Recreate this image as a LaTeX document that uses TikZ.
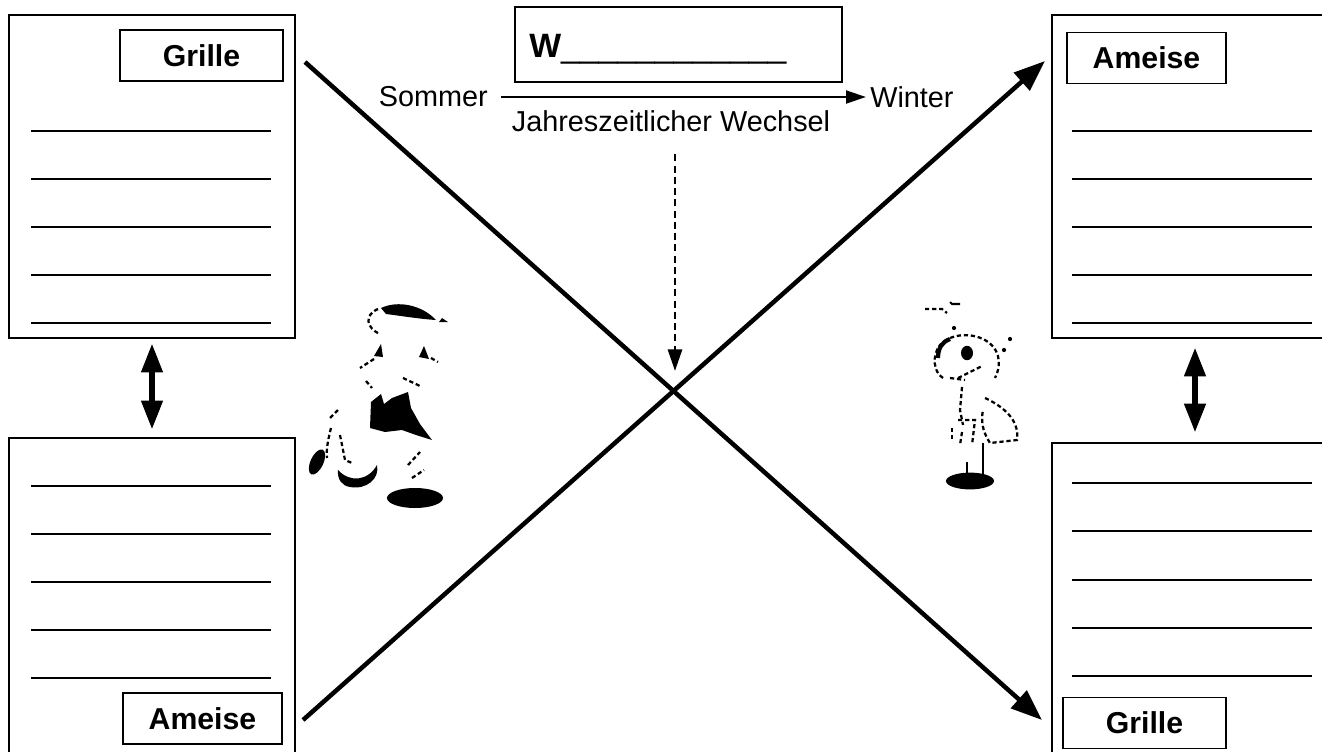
\documentclass[tikz,border=0pt]{standalone}
\usepackage{fontspec}
\setmainfont{Liberation Sans}
\usetikzlibrary{arrows.meta}

\tikzset{
  tafel/.style={draw, line width=0.9pt, minimum width=7.15cm, minimum height=8.075cm, inner sep=0pt},
  schild/.style={draw, fill=white, line width=0.8pt, inner sep=0pt, minimum height=1.275cm,
    font=\fontsize{21.5}{24}\selectfont\bfseries},
  zeile/.style={line width=1.2pt},
  kreuzpfeil/.style={line width=3.2pt, -{Triangle[length=0.78cm, width=0.58cm]}},
  doppelpfeil/.style={line width=3.8pt, {Triangle[length=0.72cm, width=0.52cm]}-{Triangle[length=0.72cm, width=0.52cm]}},
  skizze/.style={line width=1.6pt, dash pattern=on 3pt off 2pt}
}

\begin{document}
\begin{tikzpicture}[x=0.025cm, y=-0.025cm]
\useasboundingbox (0,0) rectangle (1322,751);
\clip (0,0) rectangle (1322,751);

\node[tafel] (grilleLO) at (152,176.5) {};
\node[tafel] (ameiseLU) at (152,599.5) {};
\node[tafel] (ameiseRO) at (1195,176.5) {};
\node[tafel] (grilleRU) at (1195,604.5) {};

\foreach \y in {131,179,227,275,323} {
  \draw[zeile] (31,\y) -- (271,\y);
  \draw[zeile] (1072,\y) -- (1312,\y);
}
\foreach \y in {486,534,582,630,678}
  \draw[zeile] (31,\y) -- (271,\y);
\foreach \y in {483,531,580,628,676}
  \draw[zeile] (1072,\y) -- (1312,\y);

\node[schild, minimum width=4.075cm] (grilleA) at (201.5,55.5) {Grille};
\node[schild, minimum width=3.975cm] (ameiseA) at (202.5,718.5) {Ameise};
\node[schild, minimum width=3.975cm] (ameiseB) at (1146.5,58) {Ameise};
\node[schild, minimum width=4.075cm] (grilleB) at (1144.5,723) {Grille};

\draw[doppelpfeil, shorten <=0.125cm, shorten >=0.2cm] (grilleLO.south) -- (ameiseLU.north);
\draw[doppelpfeil, shorten <=0.225cm, shorten >=0.25cm] (ameiseRO.south) -- (grilleRU.north);

\node[draw, line width=2pt, minimum width=8.175cm, minimum height=1.875cm] (wbox) at (678.5,44.5) {};
\node[anchor=base west, inner sep=0pt, font=\fontsize{24}{28}\selectfont] (wort) at (529,57)
  {\textbf{W}\_\_\_\_\_\_\_\_\_\_\_\_};

\begin{scope}[font=\fontsize{20.5}{24}\selectfont, inner sep=0pt]
\node[anchor=east] (sommer) at (488,97) {Sommer};
\node[anchor=west] (winter) at (870,97) {Winter};
\node (wechsel) at (671,121) {Jahreszeitlicher Wechsel};
\end{scope}
\draw[line width=1.8pt, -{Triangle[length=0.5cm, width=0.32cm]}, shorten <=0.33cm, shorten >=0.1cm]
  (sommer.east) -- (winter.west);

\coordinate (kreuzung) at (675,393);
\draw[line width=2pt, dash pattern=on 5pt off 3pt, -{Triangle[length=0.54cm, width=0.35cm]},
  shorten <=0.56cm, shorten >=0.55cm] (wechsel.south -| kreuzung) -- (kreuzung);

\coordinate (grilleStart) at (305,62);
\coordinate (grilleZiel) at (1042,720);
\coordinate (ameiseStart) at (303,720);
\coordinate (ameiseZiel) at (1045,61);
\draw[kreuzpfeil] (grilleStart) -- (grilleZiel);
\draw[kreuzpfeil] (ameiseStart) -- (ameiseZiel);

\fill (381,308) .. controls (398,300) and (422,305) .. (436,320) .. controls (420,319) and (402,316) .. (386,314) -- cycle;
\fill (442,318) -- (448,322) -- (439,322) -- cycle;
\draw[skizze] (378,309) .. controls (364,315) and (366,328) .. (380,334);
\fill (374,356) -- (381,344) -- (383,357) -- cycle;
\fill (419,357) -- (424,346) -- (429,359) -- cycle;
\draw[skizze] (374,359) -- (360,368);
\draw[skizze] (431,358) -- (438,362);
\draw[skizze] (366,381) -- (372,388);
\draw[skizze] (403,378) -- (420,386);
\fill (371,402) -- (381,394) -- (384,404) -- (392,398) -- (408,392) -- (411,408) -- (420,424)
  -- (432,440) -- (416,435) -- (402,430) -- (385,432) -- (370,428) -- cycle;
\draw[skizze] (338,410) -- (330,418);
\draw[skizze] (331,428) .. controls (328,440) and (326,450) .. (327,458);
\draw[skizze] (340,435) -- (345,460) -- (352,463);
\fill[rotate around={-25:(317,462)}] (317,462) ellipse (0.16cm and 0.34cm);
\fill (338,470) .. controls (350,483) and (368,481) .. (377,465) .. controls (380,479) and (366,490) .. (350,487)
  .. controls (342,486) and (337,479) .. cycle;
\draw[skizze] (408,465) -- (420,452);
\draw[skizze] (412,478) -- (424,470);
\fill (415,498) ellipse (0.7cm and 0.25cm);

\draw[skizze] (925,309) -- (942,309) -- (947,313);
\draw[line width=1.5pt] (950,302) -- (952,304) -- (960,304);
\draw[skizze] (943,378) .. controls (933,372) and (932,355) .. (940,345) .. controls (950,334) and (970,332) .. (985,340)
  .. controls (998,347) and (1003,362) .. (995,378);
\draw[line width=3pt] (938,358) .. controls (938,348) and (942,342) .. (950,339);
\fill (967,353) ellipse (0.15cm and 0.18cm);
\draw[skizze] (958,378) -- (982,366);
\draw[skizze] (950,378) -- (965,380);
\draw[skizze] (962,387) -- (960,410) -- (963,425);
\draw[skizze] (958,420) -- (975,420) -- (972,445);
\draw[skizze] (952,428) -- (952,440);
\draw[skizze] (962,432) -- (960,445);
\draw[skizze] (985,398) .. controls (1000,405) and (1020,418) .. (1017,440) -- (990,443)
  .. controls (985,435) and (980,425) .. (983,410);
\draw[line width=1.4pt] (983,443) -- (983,475);
\draw[line width=1.4pt] (967,462) -- (967,474);
\fill (970,481) ellipse (0.6cm and 0.21cm);
\fill (954,328) circle (1.5pt);
\fill (1010,339) circle (1.5pt);
\fill (1004,350) circle (1.5pt);
\end{tikzpicture}
\end{document}
